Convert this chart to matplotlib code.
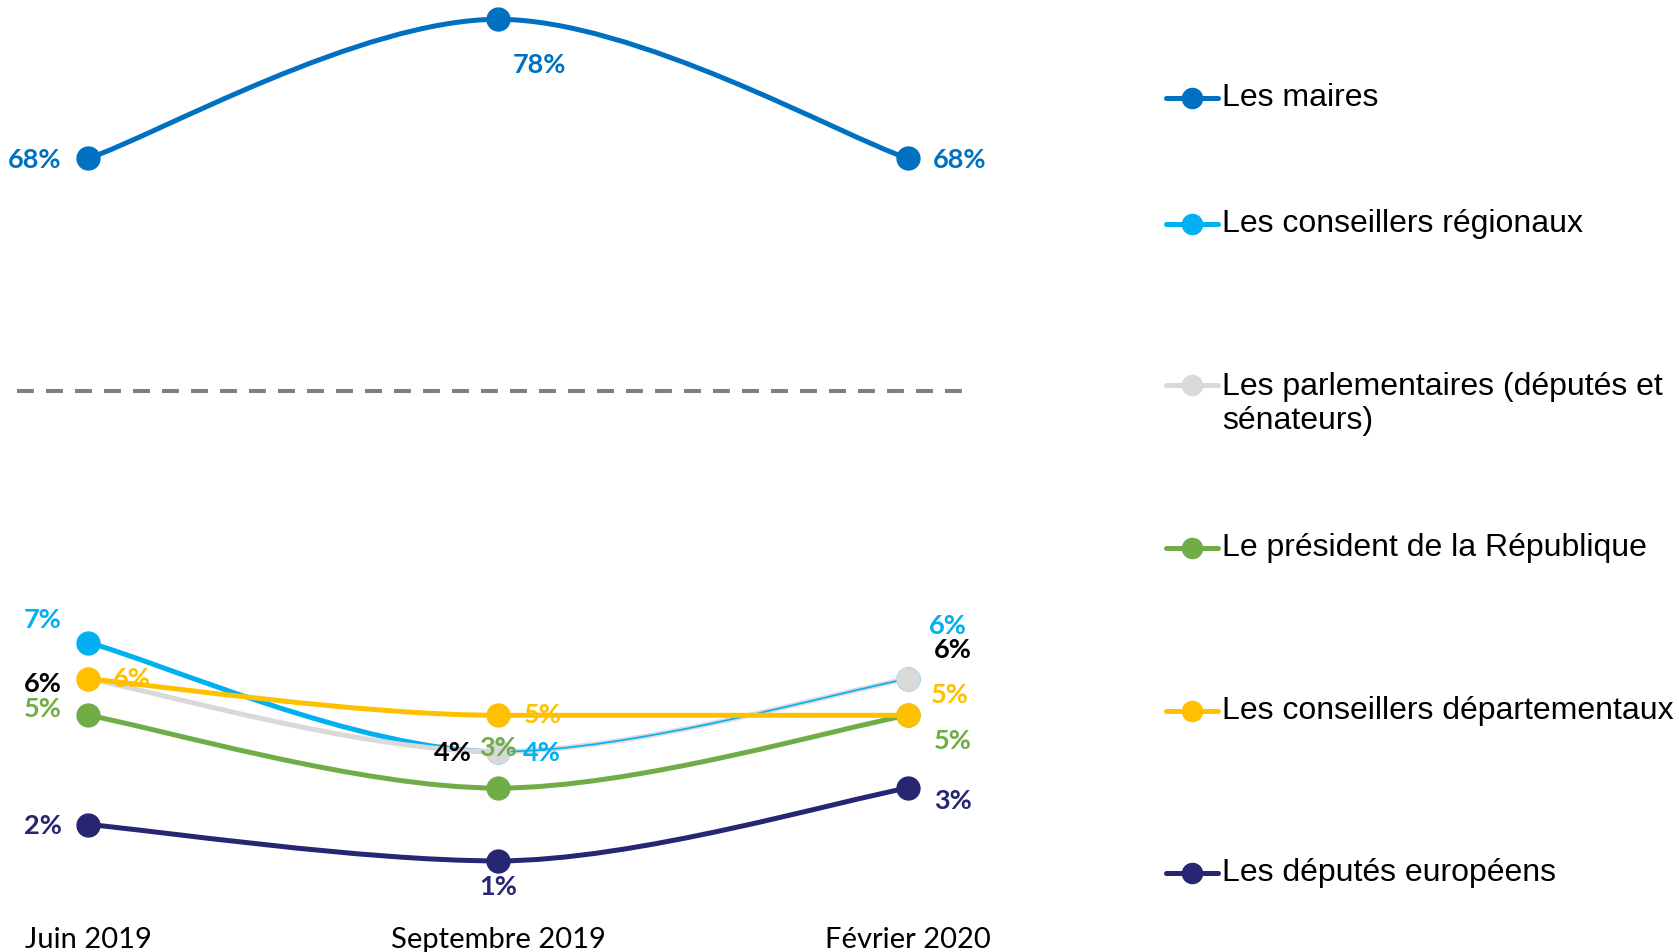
import matplotlib
matplotlib.use("Agg")
import matplotlib.pyplot as plt
from matplotlib.path import Path
from matplotlib.patches import PathPatch
from matplotlib.lines import Line2D

# ---- data ----
periods = ["Juin 2019", "Septembre 2019", "Février 2020"]
maires = [68, 78, 68]
regionaux = [7, 4, 6]
parlementaires = [6, 4, 6]
president = [5, 3, 5]
departementaux = [6, 5, 5]
europeens = [2, 1, 3]

names = ["Les maires", "Les conseillers régionaux",
         "Les parlementaires (députés et\nsénateurs)",
         "Le président de la République",
         "Les conseillers départementaux", "Les députés européens"]
colors = ["#0070C0", "#00B0F0", "#D9D9D9", "#70AD47", "#FFC000", "#262673"]
label_colors = ["#0070C0", "#00B0F0", "#000000", "#70AD47", "#FFC000", "#262673"]

# label offsets in pixels (dx, dy) for each point
offsets = [
    [(-53, -2), (41, -46), (52, -2)],
    [(-45, 22), (44, -1), (40, 53)],
    [(-45, -5), (-45, -1), (45, 29)],
    [(-45, 6), (0, 40), (45, -26)],
    [(44, 0), (45, 0), (42, 20)],
    [(-45, -1), (0, -26), (45, -13)],
]

W, H = 1679, 952
fig = plt.figure(figsize=(W / 100, H / 100), dpi=100)


def box(x0, y0, x1, y1):
    return [x0 / W, 1 - y1 / H, (x1 - x0) / W, (y1 - y0) / H]


xlim = ((0 - 88) / 410, (1000 - 88) / 410)
ax_top = fig.add_axes(box(0, 0, 1000, 330))
ax_top.set_xlim(*xlim)
ax_top.set_ylim(68 + (158.5 - 330) / 13.92, 68 + 158.5 / 13.92)
ax_top.axis("off")

ax = fig.add_axes(box(0, 400, 1000, 910))
ax.set_xlim(*xlim)
ax.set_ylim(7 + (642.5 - 910) / 36.4, 7 + (642.5 - 400) / 36.4)
for s in ax.spines.values():
    s.set_visible(False)
ax.set_yticks([])
ax.set_xticks(range(len(periods)))
ax.set_xticklabels(periods, fontfamily="Lato", fontsize=21)
ax.tick_params(axis="x", length=0, pad=12)


def smooth_path(xs, ys):
    # bezier smoothing; tangent flattened at local extrema / flat neighbours
    pts = list(zip(xs, ys))
    n = len(pts)
    tang = []
    for i in range(n):
        p0 = pts[max(i - 1, 0)]
        p2 = pts[min(i + 1, n - 1)]
        tx = (p2[0] - p0[0]) / 6
        ty = (p2[1] - p0[1]) / 6
        if 0 < i < n - 1:
            d1 = pts[i][1] - p0[1]
            d2 = p2[1] - pts[i][1]
            if d1 * d2 <= 0:
                ty = 0
        tang.append((tx, ty))
    verts = [pts[0]]
    codes = [Path.MOVETO]
    for i in range(n - 1):
        p1, p2 = pts[i], pts[i + 1]
        c1 = (p1[0] + tang[i][0], p1[1] + tang[i][1])
        c2 = (p2[0] - tang[i + 1][0], p2[1] - tang[i + 1][1])
        verts += [c1, c2, p2]
        codes += [Path.CURVE4] * 3
    return verts, codes


series = [maires, regionaux, parlementaires, president, departementaux, europeens]
xs = list(range(len(periods)))
for k, vals in enumerate(series):
    target = ax_top if k == 0 else ax
    verts, codes = smooth_path(xs, vals)
    if k == 1:
        # first segment thick, second thin (as in the original)
        p1 = PathPatch(Path(verts[:4], codes[:4]), fill=False, edgecolor=colors[k],
                       lw=3.6, capstyle="round", zorder=2 + k, clip_on=False)
        p2 = PathPatch(Path(verts[3:], [Path.MOVETO] + codes[4:]), fill=False,
                       edgecolor=colors[k], lw=1.2, zorder=4.5, clip_on=False)
        target.add_patch(p1)
        target.add_patch(p2)
    else:
        target.add_patch(PathPatch(Path(verts, codes), fill=False, edgecolor=colors[k],
                                   lw=3.6, capstyle="round", zorder=2 + k, clip_on=False))
    target.plot(xs, vals, "o", color=colors[k], ms=16.5, zorder=2 + k + 0.6, clip_on=False)
    for i, v in enumerate(vals):
        target.annotate(f"{v}%", (xs[i], v), xytext=offsets[k][i],
                        textcoords="offset pixels", ha="center", va="center",
                        fontfamily="Lato", fontweight="bold", fontsize=19.5,
                        color=label_colors[k], zorder=20)

# dashed separator
fig.add_artist(Line2D([17 / W, 967 / W], [1 - 391 / H, 1 - 391 / H],
                      color="#7F7F7F", lw=2.9, ls=(0, (4.2, 3.0))))

# legend drawn by hand to keep the original spacing
ax_leg = fig.add_axes([0, 0, 1, 1], zorder=-1)
ax_leg.set_xlim(0, W)
ax_leg.set_ylim(H, 0)
ax_leg.axis("off")
leg_y = [98, 224, 385, 548, 711, 873]
for k, name in enumerate(names):
    y = leg_y[k]
    ax_leg.plot([1166, 1218], [y, y], color=colors[k], lw=3.6, solid_capstyle="round")
    ax_leg.plot([1192], [y], "o", color=colors[k], ms=14.5)
    if "\n" in name:
        ax_leg.text(1222, y + 19, name, ha="left", va="center", fontfamily="Liberation Sans",
                    fontsize=23, linespacing=1.2)
    else:
        ax_leg.text(1222, y, name, ha="left", va="center", fontfamily="Liberation Sans",
                    fontsize=23)

fig.savefig("out.png", dpi=100)
